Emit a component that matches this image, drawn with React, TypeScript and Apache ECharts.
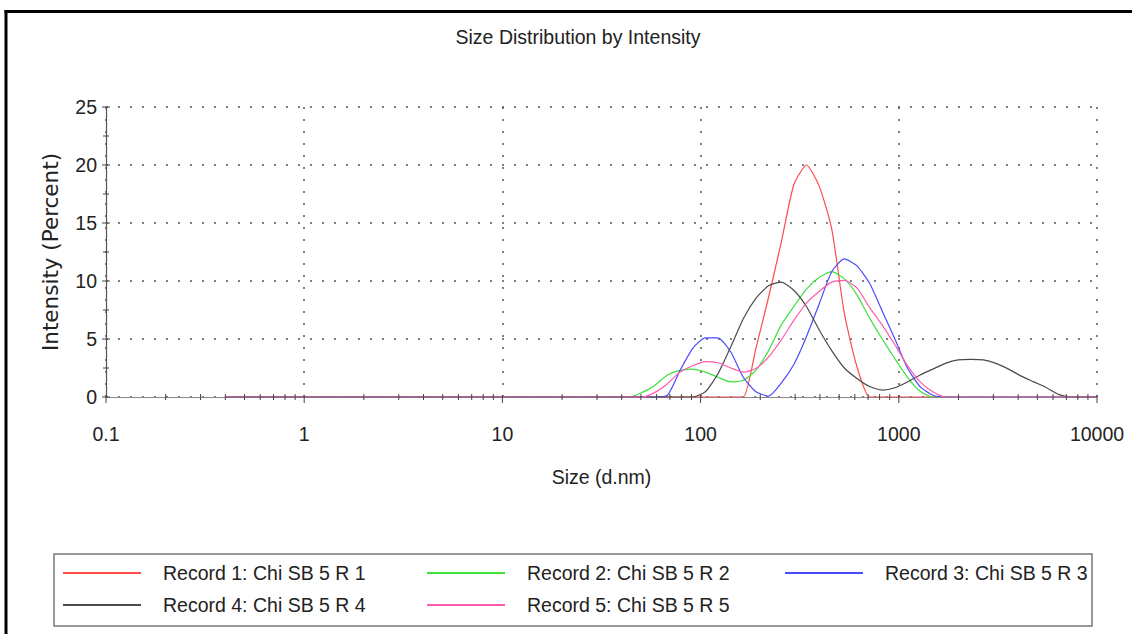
import React, { useEffect, useRef } from 'react';
import * as echarts from 'echarts';

// Size classes (d.nm)
const sizes = [
  0.4, 0.4632, 0.5365, 0.6213, 0.7195, 0.8332, 0.9649, 1.117, 1.294, 1.499,
  1.736, 2.01, 2.328, 2.696, 3.122, 3.615, 4.187, 4.849, 5.615, 6.503,
  7.531, 8.721, 10.1, 11.7, 13.54, 15.69, 18.17, 21.04, 24.36, 28.21,
  32.67, 37.84, 43.82, 50.75, 58.77, 68.06, 78.82, 91.28, 105.7, 122.4,
  141.8, 164.2, 190.1, 220.2, 255, 295.3, 342, 396.1, 458.7, 531.2,
  615.1, 712.4, 825, 955.4, 1106, 1281, 1484, 1718, 1990, 2305,
  2669, 3091, 3580, 4145, 4801, 5560, 6439, 7456, 8635, 10000,
];

const record1 = [
  0, 0, 0, 0, 0, 0, 0, 0, 0, 0,
  0, 0, 0, 0, 0, 0, 0, 0, 0, 0,
  0, 0, 0, 0, 0, 0, 0, 0, 0, 0,
  0, 0, 0, 0, 0, 0, 0, 0, 0, 0,
  0, 0, 4.2, 8.6, 13.3, 18.3, 20.0, 18.2, 14.5, 7.2,
  2.6, 0, 0, 0, 0, 0, 0, 0, 0, 0,
  0, 0, 0, 0, 0, 0, 0, 0, 0, 0,
];
const record2 = [
  0, 0, 0, 0, 0, 0, 0, 0, 0, 0,
  0, 0, 0, 0, 0, 0, 0, 0, 0, 0,
  0, 0, 0, 0, 0, 0, 0, 0, 0, 0,
  0, 0, 0, 0.4, 1.0, 1.9, 2.3, 2.4, 2.15, 1.7,
  1.3, 1.45, 2.3, 4.0, 6.2, 7.8, 9.3, 10.3, 10.8, 10.2,
  8.8, 6.8, 5.0, 3.3, 1.7, 0.5, 0, 0, 0, 0,
  0, 0, 0, 0, 0, 0, 0, 0, 0, 0,
];
const record3 = [
  0, 0, 0, 0, 0, 0, 0, 0, 0, 0,
  0, 0, 0, 0, 0, 0, 0, 0, 0, 0,
  0, 0, 0, 0, 0, 0, 0, 0, 0, 0,
  0, 0, 0, 0, 0, 0.15, 2.3, 4.2, 5.1, 5.1,
  3.9, 1.7, 0.45, 0.08, 1.2, 2.8, 5.2, 8.0, 10.8, 11.9,
  11.3, 9.8, 7.4, 5.0, 2.5, 0.9, 0.15, 0, 0, 0,
  0, 0, 0, 0, 0, 0, 0, 0, 0, 0,
];
const record4 = [
  0, 0, 0, 0, 0, 0, 0, 0, 0, 0,
  0, 0, 0, 0, 0, 0, 0, 0, 0, 0,
  0, 0, 0, 0, 0, 0, 0, 0, 0, 0,
  0, 0, 0, 0, 0, 0, 0, 0, 0.45, 2.0,
  4.3, 6.75, 8.5, 9.6, 9.9, 9.2, 7.8, 5.8, 4.0, 2.5,
  1.6, 0.9, 0.6, 0.8, 1.3, 1.9, 2.4, 2.9, 3.2, 3.25,
  3.2, 2.9, 2.4, 1.8, 1.3, 0.8, 0.2, 0, 0, 0,
];
const record5 = [
  0, 0, 0, 0, 0, 0, 0, 0, 0, 0,
  0, 0, 0, 0, 0, 0, 0, 0, 0, 0,
  0, 0, 0, 0, 0, 0, 0, 0, 0, 0,
  0, 0, 0, 0, 0.4, 1.15, 2.15, 2.7, 3.05, 2.95,
  2.5, 2.15, 2.45, 3.45, 4.9, 6.6, 8.1, 9.1, 9.9, 10.05,
  9.4, 7.7, 6.2, 4.5, 2.7, 1.3, 0.45, 0, 0, 0,
  0, 0, 0, 0, 0, 0, 0, 0, 0, 0,
];

const seriesNames = [
  'Record 1: Chi SB 5 R 1',
  'Record 2: Chi SB 5 R 2',
  'Record 3: Chi SB 5 R 3',
  'Record 4: Chi SB 5 R 4',
  'Record 5: Chi SB 5 R 5',
];
const seriesColors = ['#ff4a4a', '#3ee03e', '#4a4aff', '#4a4a4a', '#ff5cad'];
const seriesValues = [record1, record2, record3, record4, record5];

const xTickLabels = ['0.1', '1', '10', '100', '1000', '10000'];
const xMajorTicks = [0.1, 1, 10, 100, 1000, 10000];
const xMinorTicks = [
  0.2, 0.3, 0.4, 0.5, 0.6, 0.7, 0.8, 0.9,
  2, 3, 4, 5, 6, 7, 8, 9,
  20, 30, 40, 50, 60, 70, 80, 90,
  200, 300, 400, 500, 600, 700, 800, 900,
  2000, 3000, 4000, 5000, 6000, 7000, 8000, 9000,
];
const yMajorTicks = [0, 5, 10, 15, 20, 25];
const yMinorTicks = [2.5, 7.5, 12.5, 17.5, 22.5];

const SANS = "'Liberation Sans', Arial, sans-serif";

function tickSeries(data: number[][], dir: 'x' | 'y', up: number, down: number) {
  return {
    type: 'custom',
    silent: true,
    clip: false,
    z: 6,
    data,
    renderItem: (_p: any, api: any) => {
      const pt = api.coord([api.value(0), api.value(1)]);
      const shape =
        dir === 'x'
          ? { x1: pt[0], y1: pt[1] - up, x2: pt[0], y2: pt[1] + down }
          : { x1: pt[0] - down, y1: pt[1], x2: pt[0] + up, y2: pt[1] };
      return { type: 'line', shape, style: { stroke: '#444', lineWidth: 1 } };
    },
  };
}

export default function App() {
  const ref = useRef<HTMLDivElement>(null);
  useEffect(() => {
    if (!ref.current) return;
    const chart = echarts.init(ref.current, undefined, { renderer: 'svg' });
    const lineSeries = seriesNames.map((name, i) => ({
      name,
      type: 'line',
      symbol: 'none',
      smooth: 0.2,
      z: 3,
      lineStyle: { color: seriesColors[i], width: 1.2 },
      itemStyle: { color: seriesColors[i] },
      data: sizes.map((s, j) => [s, seriesValues[i][j]]),
    }));
    const legendBase = {
      orient: 'vertical',
      top: 556,
      icon: 'rect',
      itemWidth: 78,
      itemHeight: 2,
      itemGap: 8,
      selectedMode: false,
      textStyle: {
        fontFamily: SANS,
        fontSize: 19.5,
        lineHeight: 24,
        color: '#222',
        padding: [0, 0, 0, 17],
      },
    };
    chart.setOption({
      animation: false,
      backgroundColor: '#fff',
      title: {
        text: 'Size Distribution by Intensity',
        left: 573,
        textAlign: 'center',
        top: 22,
        textStyle: { fontFamily: SANS, fontSize: 19.5, fontWeight: 'normal', color: '#222' },
      },
      legend: [
        { ...legendBase, left: 58, data: [seriesNames[0], seriesNames[3]] },
        { ...legendBase, left: 422, data: [seriesNames[1], seriesNames[4]] },
        { ...legendBase, left: 780, data: [seriesNames[2]] },
      ],
      grid: { left: 106, right: 35, top: 107, bottom: 237, containLabel: false, outerBoundsMode: 'none' },
      xAxis: {
        type: 'log',
        logBase: 10,
        min: 0.1,
        max: 10000,
        name: 'Size (d.nm)',
        nameLocation: 'middle',
        nameGap: 70,
        nameTextStyle: { fontFamily: SANS, fontSize: 19.5, color: '#222' },
        axisLine: { show: true, lineStyle: { color: '#888', width: 1.2 } },
        axisTick: { show: false },
        axisLabel: {
          fontFamily: SANS,
          fontSize: 19.5,
          color: '#222',
          margin: 27,
          formatter: (v: number) => xTickLabels[Math.round(Math.log10(v)) + 1] ?? '',
        },
        splitLine: { show: true, lineStyle: { color: '#555', type: [2, 10], width: 1.5 } },
      },
      yAxis: {
        type: 'value',
        min: 0,
        max: 25,
        interval: 5,
        name: 'Intensity (Percent)',
        nameLocation: 'middle',
        nameGap: 45,
        nameTextStyle: { fontFamily: "'DejaVu Sans', sans-serif", fontSize: 21.5, color: '#222' },
        axisLine: { show: true, lineStyle: { color: '#555', width: 1.2 } },
        axisTick: { show: false },
        axisLabel: { fontFamily: SANS, fontSize: 19.5, color: '#222', margin: 9 },
        splitLine: { show: true, lineStyle: { color: '#555', type: [2, 10], width: 1.5 } },
      },
      graphic: [
        {
          type: 'rect',
          shape: { x: 54, y: 554, width: 1038, height: 72 },
          style: { fill: 'none', stroke: '#777', lineWidth: 1.5 },
          silent: true,
        },
        {
          type: 'line',
          shape: { x1: 6, y1: 10, x2: 6, y2: 634 },
          style: { stroke: '#000', lineWidth: 3 },
          silent: true,
        },
        {
          type: 'line',
          shape: { x1: 4.5, y1: 11.5, x2: 1132, y2: 11.5 },
          style: { stroke: '#000', lineWidth: 3 },
          silent: true,
        },
      ],
      series: [
        ...lineSeries,
        tickSeries(xMajorTicks.map((v) => [v, 0]), 'x', 2, 6),
        tickSeries(xMinorTicks.map((v) => [v, 0]), 'x', 3, 3),
        tickSeries(yMajorTicks.map((v) => [0.1, v]), 'y', 4, 4),
        tickSeries(yMinorTicks.map((v) => [0.1, v]), 'y', 3, 3),
      ],
    });
    return () => chart.dispose();
  }, []);
  return (
    <div
      ref={ref}
      style={{ position: 'fixed', left: 0, top: 0, width: 1132, height: 634 }}
    />
  );
}
